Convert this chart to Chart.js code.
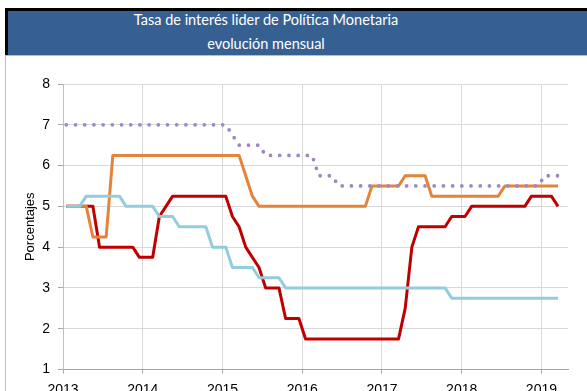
<!DOCTYPE html>
<html>
<head>
<meta charset="utf-8">
<script src="https://cdn.jsdelivr.net/npm/chart.js@4/dist/chart.umd.min.js"></script>
<style>
  html, body { margin: 0; padding: 0; background: #fff; }
  #page { position: relative; width: 587px; height: 391px; overflow: hidden; background: #fff; }
  #topBand { position: absolute; left: 5px; top: 8px; width: 582px; height: 3px; background: #000; }
  #leftBand { position: absolute; left: 5px; top: 8px; width: 3px; height: 47px; background: #000; }
  #banner { position: absolute; left: 8px; top: 11px; width: 579px; height: 44px; background: #376092; }
  #bannerRule { position: absolute; left: 5px; top: 55px; width: 582px; height: 1px; background: #BDBDBD; }
  #frameLeft { position: absolute; left: 5px; top: 56px; width: 1px; height: 335px; background: #BDBDBD; }
  .headline { position: absolute; left: 0; width: 532px; text-align: center; color: #fff;
              font-family: Lato, "Open Sans", sans-serif; font-size: 14.5px; line-height: 20px; white-space: nowrap; }
  #line1 { top: 10px; }
  #line2 { top: 34px; }
  #chartBox { position: absolute; left: 0; top: 56px; width: 587px; height: 335px; }
</style>
</head>
<body>
<div id="page">
  <div id="topBand"></div>
  <div id="leftBand"></div>
  <div id="banner"></div>
  <div id="bannerRule"></div>
  <div id="frameLeft"></div>
  <div class="headline" id="line1">Tasa de interés lider de Política Monetaria</div>
  <div class="headline" id="line2">evolución mensual</div>
  <div id="chartBox"><canvas id="c" width="587" height="335"></canvas></div>
</div>
<script>
// Monthly policy rates, January 2013 to March 2019 (75 months)
const firstYear = 2013;
const yearTicks = [2013, 2014, 2015, 2016, 2017, 2018, 2019];
const yTicks = [1, 2, 3, 4, 5, 6, 7, 8];

const months = [];
for (let y = 2013; y <= 2019; y++) {
  for (let m = 1; m <= 12; m++) {
    if (y === 2019 && m > 3) break;
    months.push(y + '-' + String(m).padStart(2, '0'));
  }
}

const serieRoja = [
  5, 5, 5, 5, 5, 4, 4, 4, 4, 4, 4, 3.75,
  3.75, 3.75, 4.75, 5, 5.25, 5.25, 5.25, 5.25, 5.25, 5.25, 5.25, 5.25,
  5.25, 4.75, 4.5, 4, 3.75, 3.5, 3, 3, 3, 2.25, 2.25, 2.25,
  1.75, 1.75, 1.75, 1.75, 1.75, 1.75, 1.75, 1.75, 1.75, 1.75, 1.75, 1.75,
  1.75, 1.75, 1.75, 2.5, 4, 4.5, 4.5, 4.5, 4.5, 4.5, 4.75, 4.75,
  4.75, 5, 5, 5, 5, 5, 5, 5, 5, 5, 5.25, 5.25,
  5.25, 5.25, 5
];
const serieNaranja = [
  5, 5, 5, 5, 4.25, 4.25, 4.25, 6.25, 6.25, 6.25, 6.25, 6.25,
  6.25, 6.25, 6.25, 6.25, 6.25, 6.25, 6.25, 6.25, 6.25, 6.25, 6.25, 6.25,
  6.25, 6.25, 6.25, 5.75, 5.25, 5, 5, 5, 5, 5, 5, 5,
  5, 5, 5, 5, 5, 5, 5, 5, 5, 5, 5.5, 5.5,
  5.5, 5.5, 5.5, 5.75, 5.75, 5.75, 5.75, 5.25, 5.25, 5.25, 5.25, 5.25,
  5.25, 5.25, 5.25, 5.25, 5.25, 5.25, 5.5, 5.5, 5.5, 5.5, 5.5, 5.5,
  5.5, 5.5, 5.5
];
const serieCeleste = [
  5, 5, 5, 5.25, 5.25, 5.25, 5.25, 5.25, 5.25, 5, 5, 5,
  5, 5, 4.75, 4.75, 4.75, 4.5, 4.5, 4.5, 4.5, 4.5, 4, 4,
  4, 3.5, 3.5, 3.5, 3.5, 3.25, 3.25, 3.25, 3.25, 3, 3, 3,
  3, 3, 3, 3, 3, 3, 3, 3, 3, 3, 3, 3,
  3, 3, 3, 3, 3, 3, 3, 3, 3, 3, 2.75, 2.75,
  2.75, 2.75, 2.75, 2.75, 2.75, 2.75, 2.75, 2.75, 2.75, 2.75, 2.75, 2.75,
  2.75, 2.75, 2.75
];
const serieLila = [
  7, 7, 7, 7, 7, 7, 7, 7, 7, 7, 7, 7,
  7, 7, 7, 7, 7, 7, 7, 7, 7, 7, 7, 7,
  7, 6.75, 6.5, 6.5, 6.5, 6.5, 6.25, 6.25, 6.25, 6.25, 6.25, 6.25,
  6.25, 6.25, 5.75, 5.75, 5.75, 5.5, 5.5, 5.5, 5.5, 5.5, 5.5, 5.5,
  5.5, 5.5, 5.5, 5.5, 5.5, 5.5, 5.5, 5.5, 5.5, 5.5, 5.5, 5.5,
  5.5, 5.5, 5.5, 5.5, 5.5, 5.5, 5.5, 5.5, 5.5, 5.5, 5.5, 5.5,
  5.75, 5.75, 5.75
];

// each month sits in the middle of its slot on the year axis
function monthPos(label) {
  const [y, m] = label.split('-').map(Number);
  return y + (m - 0.5) / 12;
}
function toPoints(values) {
  return values.map((v, i) => ({ x: monthPos(months[i]), y: v }));
}

const tickFont = { family: '"Liberation Sans", Arial, sans-serif', size: 14 };

new Chart(document.getElementById('c'), {
  type: 'line',
  data: {
    datasets: [
      { data: toPoints(serieLila), borderColor: '#9E88C2', borderWidth: 3.8,
        borderDash: [0, 9.2], borderCapStyle: 'round', pointRadius: 0, tension: 0 },
      { data: toPoints(serieCeleste), borderColor: '#93CDDD', borderWidth: 3,
        borderJoinStyle: 'round', pointRadius: 0, tension: 0 },
      { data: toPoints(serieNaranja), borderColor: '#E3843A', borderWidth: 3,
        borderJoinStyle: 'round', pointRadius: 0, tension: 0 },
      { data: toPoints(serieRoja), borderColor: '#C00000', borderWidth: 3,
        borderJoinStyle: 'round', pointRadius: 0, tension: 0 }
    ]
  },
  options: {
    responsive: false,
    animation: false,
    devicePixelRatio: 1,
    layout: { padding: { left: 0, right: 19, top: 28, bottom: 0 } },
    plugins: { legend: { display: false }, tooltip: { enabled: false } },
    scales: {
      x: {
        type: 'linear',
        min: firstYear,
        max: firstYear + months.length / 12 + 1 / 12,
        afterBuildTicks: s => { s.ticks = yearTicks.map(v => ({ value: v })); },
        afterFit: s => { s.height = 21.5; },
        ticks: { callback: v => String(v), font: tickFont, color: '#000', padding: 8,
                 maxRotation: 0, autoSkip: false },
        grid: { color: '#D9D9D9', tickLength: 4, tickColor: '#A6A6A6' },
        border: { color: '#A6A6A6' }
      },
      y: {
        min: 1,
        max: 8,
        afterBuildTicks: s => { s.ticks = yTicks.map(v => ({ value: v })); },
        afterFit: s => { s.width = 63; },
        ticks: { font: tickFont, color: '#000', padding: 8 },
        grid: { color: '#D9D9D9', tickLength: 5, tickColor: '#A6A6A6' },
        border: { color: '#BFBFBF' },
        title: { display: true, text: 'Porcentajes', color: '#000',
                 font: { family: '"Liberation Sans", Arial, sans-serif', size: 13 },
                 padding: { top: 23, bottom: 0 } }
      }
    }
  }
});
</script>
</body>
</html>
